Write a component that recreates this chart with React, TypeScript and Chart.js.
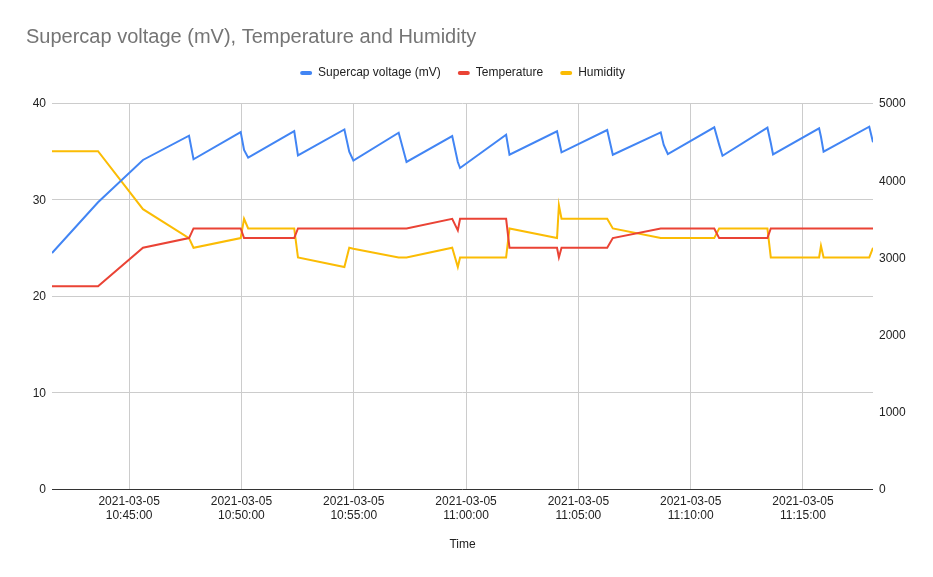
import React, { useEffect, useRef } from "react";
import { Chart, registerables } from "chart.js";

Chart.register(...registerables);

// ---- Data ----
const TITLE = "Supercap voltage (mV), Temperature and Humidity";
const DATE = "2021-03-05";
const times = [
  "10:41:34", "10:43:37", "10:45:37", "10:47:40", "10:47:52", "10:49:58", "10:50:07", "10:50:18",
  "10:52:21", "10:52:31", "10:54:35", "10:54:48", "10:54:59", "10:57:00", "10:57:21", "10:59:23",
  "10:59:38", "10:59:44", "11:01:47", "11:01:56", "11:04:03", "11:04:08", "11:04:15", "11:06:17",
  "11:06:32", "11:08:40", "11:08:48", "11:08:59", "11:11:03", "11:11:16", "11:11:25", "11:13:25",
  "11:13:34", "11:13:40", "11:15:43", "11:15:48", "11:15:55", "11:17:57", "11:18:07",
];
const voltage = [
  3057, 3714, 4262, 4576, 4271, 4624, 4391, 4291,
  4637, 4322, 4657, 4369, 4255, 4615, 4236, 4572,
  4236, 4158, 4589, 4330, 4633, 4521, 4361, 4650,
  4330, 4620, 4456, 4339, 4685, 4461, 4317, 4680,
  4482, 4335, 4672, 4563, 4369, 4693, 4491,
];
const temperature = [
  21, 21, 25, 26, 27, 27, 26, 26,
  26, 27, 27, 27, 27, 27, 27, 28,
  26.8, 28, 28, 25, 25, 24, 25, 25,
  26, 27, 27, 27, 27, 26, 26, 26,
  27, 27, 27, 27, 27, 27, 27,
];
const humidity = [
  35, 35, 29, 26, 25, 26, 28, 27,
  27, 24, 23, 25, 24.9, 24, 24, 25,
  23, 24, 24, 27, 26, 29.4, 28, 28,
  27, 26, 26, 26, 26, 27, 27, 27,
  24, 24, 24, 25.2, 24, 24, 25,
];
const xTickTimes = ["10:45:00", "10:50:00", "10:55:00", "11:00:00", "11:05:00", "11:10:00", "11:15:00"];
const leftTicks = [0, 10, 20, 30, 40];
const rightTicks = [0, 1000, 2000, 3000, 4000, 5000];
const X_MIN = "10:41:34";
const X_MAX = "11:18:07";

const toSec = (t: string) => {
  const [h, m, s] = t.split(":").map(Number);
  return h * 3600 + m * 60 + s;
};
const pad = (n: number) => String(n).padStart(2, "0");
const fmt = (sec: number) => `${pad(Math.floor(sec / 3600))}:${pad(Math.floor((sec % 3600) / 60))}:${pad(sec % 60)}`;

const FONT = "Arial, 'Liberation Sans', sans-serif";
const BLUE = "#4285F4";
const RED = "#EA4335";
const YELLOW = "#FBBC04";

const legendGap = {
  id: "legendGap",
  afterInit(chart: any) {
    const lg = chart.legend;
    if (!lg || lg.__patched) return;
    const orig = lg.fit.bind(lg);
    lg.fit = function () {
      orig();
      this.height += 14;
    };
    lg.__patched = true;
  },
};

export default function App() {
  const ref = useRef<HTMLCanvasElement>(null);
  useEffect(() => {
    if (!ref.current) return;
    const mk = (vals: number[]) => vals.map((v, i) => ({ x: toSec(times[i]), y: v }));
    const chart = new Chart(ref.current, {
      type: "line",
      data: {
        datasets: [
          { label: "Supercap voltage (mV)", data: mk(voltage), borderColor: BLUE, backgroundColor: BLUE, yAxisID: "y1", borderWidth: 2, pointRadius: 0, tension: 0 },
          { label: "Temperature", data: mk(temperature), borderColor: RED, backgroundColor: RED, yAxisID: "y", borderWidth: 2, pointRadius: 0, tension: 0 },
          { label: "Humidity", data: mk(humidity), borderColor: YELLOW, backgroundColor: YELLOW, yAxisID: "y", borderWidth: 2, pointRadius: 0, tension: 0 },
        ],
      },
      plugins: [legendGap],
      options: {
        animation: false,
        responsive: false,
        maintainAspectRatio: false,
        layout: { padding: { left: 26, right: 0, top: 0, bottom: 0 } },
        plugins: {
          tooltip: { enabled: false },
          title: {
            display: true,
            text: TITLE,
            align: "start",
            color: "#757575",
            font: { family: FONT, size: 20, weight: "normal" },
            padding: { top: 25, bottom: 1 },
          },
          legend: {
            display: true,
            fullSize: false,
            position: "top",
            labels: {
              color: "#222222",
              font: { family: FONT, size: 12 },
              boxWidth: 12,
              boxHeight: 4,
              padding: 17,
              generateLabels: (c: any) => {
                const items = Chart.defaults.plugins.legend.labels.generateLabels(c);
                return items.map((it: any) => ({ ...it, lineWidth: 0, borderRadius: 2 }));
              },
            },
          },
        },
        scales: {
          x: {
            type: "linear",
            min: toSec(X_MIN),
            max: toSec(X_MAX),
            afterBuildTicks: (s: any) => {
              s.ticks = xTickTimes.map((t) => ({ value: toSec(t) }));
            },
            afterFit: (s: any) => {
              s.height = 88;
            },
            ticks: {
              autoSkip: false,
              maxRotation: 0,
              padding: 5,
              color: "#222222",
              font: { family: FONT, size: 12 },
              callback: (v: any) => [DATE, fmt(Number(v))],
            },
            grid: { color: "#cccccc", drawTicks: false },
            border: { display: false },
            title: {
              display: true,
              text: "Time",
              color: "#222222",
              font: { family: FONT, size: 12 },
              padding: { top: 10, bottom: 25 },
            },
          },
          y: {
            position: "left",
            min: 0,
            max: 40,
            afterBuildTicks: (s: any) => {
              s.ticks = leftTicks.map((v) => ({ value: v }));
            },
            afterFit: (s: any) => {
              s.width = 26;
            },
            ticks: { padding: 6, labelOffset: 1, color: "#222222", font: { family: FONT, size: 12 } },
            grid: {
              drawTicks: false,
              color: (ctx: any) => (ctx.tick && ctx.tick.value === 0 ? "#333333" : "#cccccc"),
            },
            border: { display: false },
          },
          y1: {
            position: "right",
            min: 0,
            max: 5000,
            afterBuildTicks: (s: any) => {
              s.ticks = rightTicks.map((v) => ({ value: v }));
            },
            afterFit: (s: any) => {
              s.width = 60;
            },
            ticks: {
              padding: 6,
              labelOffset: 1,
              color: "#222222",
              font: { family: FONT, size: 12 },
              callback: (v: any) => String(v),
            },
            grid: { display: false, drawTicks: false },
            border: { display: false },
          },
        },
      },
    } as any);
    return () => chart.destroy();
  }, []);
  return (
    <div style={{ position: "absolute", left: 0, top: 0, width: 933, height: 577, background: "#fff" }}>
      <canvas ref={ref} width={933} height={577} style={{ width: 933, height: 577, display: "block" }} />
    </div>
  );
}
